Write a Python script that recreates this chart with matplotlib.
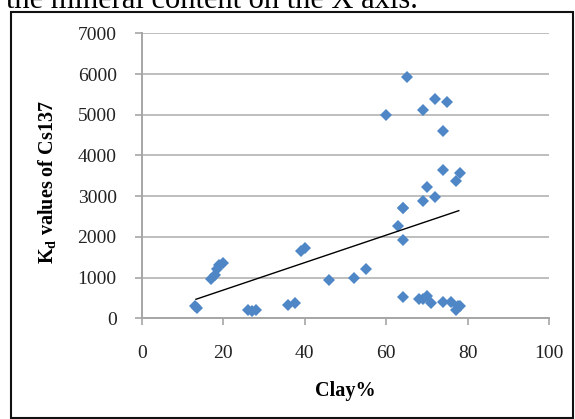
import numpy as np
import matplotlib
matplotlib.use("Agg")
import matplotlib.pyplot as plt
from matplotlib.patches import Rectangle

plt.rcParams['font.family'] = ['Liberation Serif', 'DejaVu Serif']
plt.rcParams['mathtext.fontset'] = 'custom'
plt.rcParams['mathtext.rm'] = 'Liberation Serif'
plt.rcParams['mathtext.bf'] = 'Liberation Serif:bold'
plt.rcParams['mathtext.it'] = 'Liberation Serif:italic'

# clay content (%) and Kd values of Cs137
clay = [13, 13.5, 17, 18, 18.5, 19, 20, 26, 27, 28, 36, 37.5, 39, 40,
        46, 52, 55, 60, 63, 64, 64, 64, 65, 69, 69, 70, 72, 72, 74, 74,
        75, 77, 78, 64, 68, 69, 70, 71, 74, 76, 77, 77.5, 78]
kd = [300, 260, 960, 1060, 1200, 1310, 1350, 210, 190, 200, 330, 380, 1650, 1730,
      950, 980, 1210, 5000, 2260, 1930, 2700, 2700, 5920, 2880, 5120, 3230, 2970, 5380, 3640, 4610,
      5320, 3380, 3560, 520, 470, 480, 540, 370, 400, 400, 200, 300, 300]

# linear trendline
trend_x = [13.3, 77.8]
trend_slope = 33.75
trend_icpt = 18.0

xticks = [0, 20, 40, 60, 80, 100]
yticks = [0, 1000, 2000, 3000, 4000, 5000, 6000, 7000]

fig = plt.figure(figsize=(5.75, 4.19), dpi=100)
W, H = 575.0, 419.0
ax = fig.add_axes([141.7 / W, 1 - 318.3 / H, (549.3 - 141.7) / W, (318.3 - 33.3) / H])

ax.set_axisbelow(True)
ax.yaxis.grid(True, color='#BEBEBE', linewidth=1.4)
ax.plot(clay, kd, linestyle='none', marker='D', ms=6.6, color='#4F87C6',
        markeredgewidth=0, zorder=3)
tx = np.array(trend_x)
ax.plot(tx, trend_slope * tx + trend_icpt, color='black', linewidth=1.0, zorder=4)

ax.set_xlim(0, 100)
ax.set_ylim(0, 7000)
ax.set_xticks(xticks)
ax.set_yticks(yticks)
for s in ['top', 'right']:
    ax.spines[s].set_visible(False)
for s in ['left', 'bottom']:
    ax.spines[s].set_color('#A6A6A6')
    ax.spines[s].set_linewidth(1.4)
ax.tick_params(axis='both', direction='out', length=5, width=1.2, color='#A6A6A6',
               labelsize=14, labelcolor='#222222')
ax.tick_params(axis='x', pad=14)
ax.tick_params(axis='y', pad=13)

ax.set_xlabel('Clay%', fontsize=14.5, fontweight='bold', labelpad=14)
fig.text(47 / W, 1 - 182 / H, r'K$_{\mathbf{d}}$ values of Cs137', rotation=90,
         ha='center', va='center', fontsize=14.5, fontweight='bold')

# document text above the chart, clipped by the image edge
fig.text(6 / W, 1 - 8 / H, 'the mineral content on the X axis.', fontsize=22,
         ha='left', va='baseline')

# frame around the chart
fig.patches.append(Rectangle((11 / W, 1 / H), 562 / W, 406 / H, transform=fig.transFigure,
                             fill=False, edgecolor='#111111', linewidth=1.5))

fig.savefig('out.png', dpi=100)
